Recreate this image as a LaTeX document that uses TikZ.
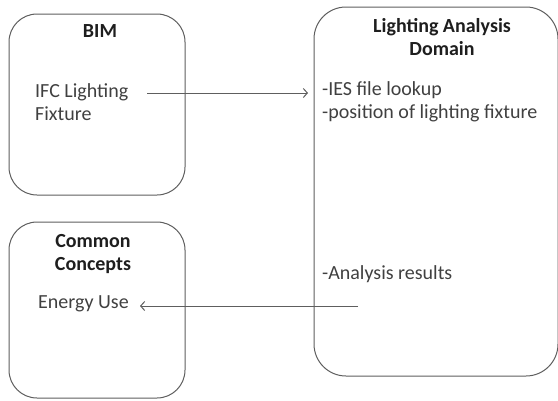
\documentclass[tikz,border=0pt]{standalone}
\usepackage{fontspec}
\setmainfont{Carlito}
\usetikzlibrary{arrows.meta}
\definecolor{linegray}{HTML}{5E5E5E}
\definecolor{textgray}{HTML}{404040}
\definecolor{headgray}{HTML}{1E1E1E}
\begin{document}
\begin{tikzpicture}[x=1pt,y=-1pt,
  panel/.style={draw=linegray,line width=1pt,rounded corners=#1},
  body/.style={font=\fontsize{20}{24}\selectfont,text=textgray,inner sep=0pt,anchor=base west},
  head/.style={font=\fontsize{20}{24}\selectfont\bfseries,text=headgray,inner sep=0pt,anchor=base},
  arr/.style={draw=linegray,line width=1pt,-{Straight Barb[length=4pt,width=9pt]}}]
\useasboundingbox (0,0) rectangle (558,400);

% domain panels
\draw[panel=28] (9,14) rectangle (185,195);
\draw[panel=28] (9,222) rectangle (185,398);
\begin{scope}
\clip (0,0) rectangle (558,400);
\draw[panel=32] (314,7) rectangle (558,376);
\end{scope}
\coordinate (lad) at (314,190);

% BIM
\node[head] (bim) at (100,37) {BIM};
\node[body] (ifc) at (35,97) {IFC Lighting};
\node[body] (fix) at (35,120) {Fixture};

% Lighting analysis domain
\node[head] (lad1) at (442,32) {Lighting Analysis};
\node[head] (lad2) at (442,55) {Domain};
\node[body] (ies) at (322,95) {-IES file lookup};
\node[body] (pos) at (322,118) {-position of lighting fixture};
\node[body] (res) at (322,279) {-Analysis results};

% Common concepts
\node[head] (cc1) at (93,247) {Common};
\node[head] (cc2) at (93,270) {Concepts};
\node[body] (eu) at (38,308) {Energy Use};

% connectors
\coordinate (up0) at (147,93);
\coordinate (lo0) at (358,306);
\coordinate (eutip) at (140,306);
\draw[arr,shorten >=6pt] (up0) -- (lad |- up0);
\draw[arr] (lo0) -- (eutip);
\end{tikzpicture}
\end{document}
